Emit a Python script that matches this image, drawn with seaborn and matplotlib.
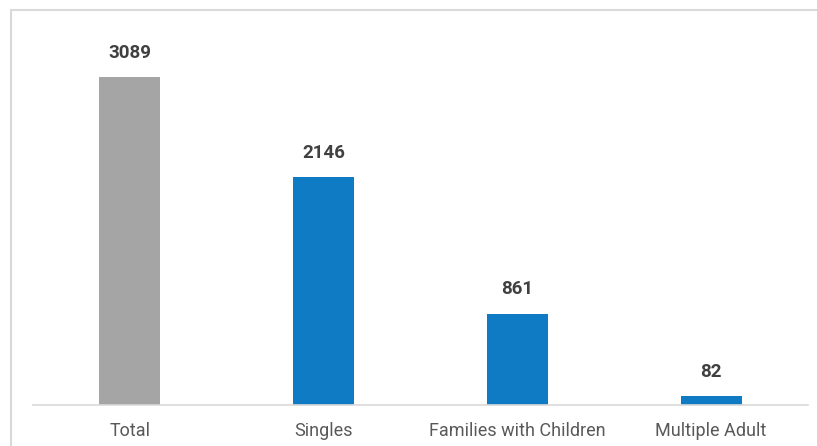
import matplotlib
matplotlib.use("Agg")
import matplotlib.pyplot as plt
import seaborn as sns
import pandas as pd
from matplotlib.patches import Rectangle

categories = ["Total", "Singles", "Families with Children", "Multiple Adult"]
values = [3089, 2146, 861, 82]
bar_colors = ["#A5A5A5", "#0F7BC4", "#0F7BC4", "#0F7BC4"]

sns.set_theme(style="white")
plt.rcParams['font.family'] = ['Roboto', 'DejaVu Sans']

df = pd.DataFrame({"cat": categories, "val": values})

fig = plt.figure(figsize=(8.17, 4.46), dpi=100)
ax = fig.add_axes([33/817, 41/446, 775/817, 385/446])
sns.barplot(data=df, x="cat", y="val", hue="cat", palette=bar_colors,
            width=0.315, ax=ax, legend=False, saturation=1, linewidth=0)
ax.set_ylim(0, 3626)
ax.set_xlim(-0.5, 3.5)
ax.set_xlabel("")
ax.set_ylabel("")
ax.set_yticks([])
for s in ["top", "right", "left"]:
    ax.spines[s].set_visible(False)
ax.spines["bottom"].set_color("#D9D9D9")
ax.spines["bottom"].set_linewidth(1.2)
ax.tick_params(axis="x", length=0, pad=12, labelsize=13, labelcolor="#595959")

for i, v in enumerate(values):
    ax.annotate(str(v), (i, v), xytext=(0, 11), textcoords="offset points",
                ha="center", va="bottom", fontsize=13.5, fontweight="bold",
                color="#404040")

fig.patches.append(Rectangle((11/817, -0.1), 1.0, 436/446 + 0.1,
                             transform=fig.transFigure, fill=False,
                             edgecolor="#D9D9D9", linewidth=1.5))

fig.savefig("out.png", dpi=100, facecolor="white")
